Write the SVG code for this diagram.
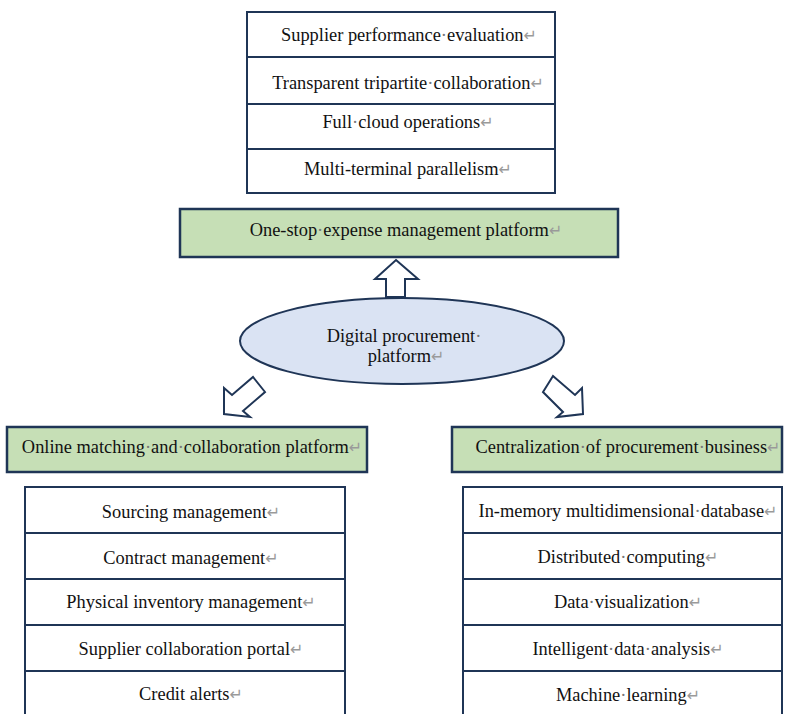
<svg xmlns="http://www.w3.org/2000/svg" width="785" height="714" viewBox="0 0 785 714">
<style>
.t{font-family:"Liberation Serif","Times New Roman",serif;font-size:18.4px;fill:#111;text-anchor:middle}
.m{font-family:"DejaVu Sans",sans-serif;font-size:16px;fill:#9a9a9a}
.d{fill:#777}
.box{fill:#fff;stroke:#1f3556;stroke-width:2}
.sep{stroke:#1f3556;stroke-width:2}
.g{fill:#c6dfb6;stroke:#1f3556;stroke-width:2.5}
.ar{fill:#fff;stroke:#1f3556;stroke-width:2;stroke-linejoin:miter}
</style>
<rect width="785" height="714" fill="#fff"/>
<g id="top-list">
<rect class="box" x="247" y="12" width="308" height="181"/>
<line class="sep" x1="247" y1="57" x2="555" y2="57"/>
<line class="sep" x1="247" y1="104" x2="555" y2="104"/>
<line class="sep" x1="247" y1="149" x2="555" y2="149"/>
<text class="t" x="409" y="41">Supplier performance<tspan class="d">·</tspan>evaluation<tspan class="m">↵</tspan></text>
<text class="t" x="408" y="89">Transparent tripartite<tspan class="d">·</tspan>collaboration<tspan class="m">↵</tspan></text>
<text class="t" x="408" y="128">Full<tspan class="d">·</tspan>cloud operations<tspan class="m">↵</tspan></text>
<text class="t" x="408" y="175">Multi-terminal parallelism<tspan class="m">↵</tspan></text>
</g>
<g id="one-stop">
<rect class="g" x="180" y="209" width="438" height="48"/>
<text class="t" x="406" y="236">One-stop<tspan class="d">·</tspan>expense management platform<tspan class="m">↵</tspan></text>
</g>
<g id="connectors">
<polygon class="ar" points="396,260 418,279 405,279 405,297 386,297 386,279 375,279"/>
<polygon class="ar" points="224,414 224,388 232,395 253,377 265,392 243,411 250,417"/>
<polygon class="ar" points="583,414 582,388 575,395 553,376 543,392 563,412 557,417"/>
</g>
<g id="digital">
<ellipse cx="402" cy="341" rx="162" ry="43" fill="#dae3f3" stroke="#1f3556" stroke-width="2"/>
<text class="t" x="404" y="342">Digital procurement<tspan class="d">·</tspan></text>
<text class="t" x="406" y="362">platform<tspan class="m">↵</tspan></text>
</g>
<g id="online">
<rect class="g" x="7" y="427" width="360" height="45"/>
<text class="t" x="192" y="453">Online matching<tspan class="d">·</tspan>and<tspan class="d">·</tspan>collaboration platform<tspan class="m">↵</tspan></text>
</g>
<g id="central">
<rect class="g" x="452" y="427" width="330" height="45"/>
<text class="t" x="628" y="453">Centralization<tspan class="d">·</tspan>of procurement<tspan class="d">·</tspan>business<tspan class="m">↵</tspan></text>
</g>
<g id="left-list">
<rect class="box" x="25" y="487" width="320" height="240"/>
<line class="sep" x1="25" y1="533" x2="345" y2="533"/>
<line class="sep" x1="25" y1="579" x2="345" y2="579"/>
<line class="sep" x1="25" y1="625" x2="345" y2="625"/>
<line class="sep" x1="25" y1="671" x2="345" y2="671"/>
<text class="t" x="191" y="518">Sourcing management<tspan class="m">↵</tspan></text>
<text class="t" x="191" y="564">Contract management<tspan class="m">↵</tspan></text>
<text class="t" x="191" y="608">Physical inventory management<tspan class="m">↵</tspan></text>
<text class="t" x="191" y="655">Supplier collaboration portal<tspan class="m">↵</tspan></text>
<text class="t" x="191" y="700">Credit alerts<tspan class="m">↵</tspan></text>
</g>
<g id="right-list">
<rect class="box" x="463" y="487" width="319" height="240"/>
<line class="sep" x1="463" y1="533" x2="782" y2="533"/>
<line class="sep" x1="463" y1="579" x2="782" y2="579"/>
<line class="sep" x1="463" y1="625" x2="782" y2="625"/>
<line class="sep" x1="463" y1="671" x2="782" y2="671"/>
<text class="t" x="628" y="517">In-memory multidimensional<tspan class="d">·</tspan>database<tspan class="m">↵</tspan></text>
<text class="t" x="628" y="563">Distributed<tspan class="d">·</tspan>computing<tspan class="m">↵</tspan></text>
<text class="t" x="628" y="608">Data<tspan class="d">·</tspan>visualization<tspan class="m">↵</tspan></text>
<text class="t" x="628" y="655">Intelligent<tspan class="d">·</tspan>data<tspan class="d">·</tspan>analysis<tspan class="m">↵</tspan></text>
<text class="t" x="628" y="701">Machine<tspan class="d">·</tspan>learning<tspan class="m">↵</tspan></text>
</g>
</svg>
